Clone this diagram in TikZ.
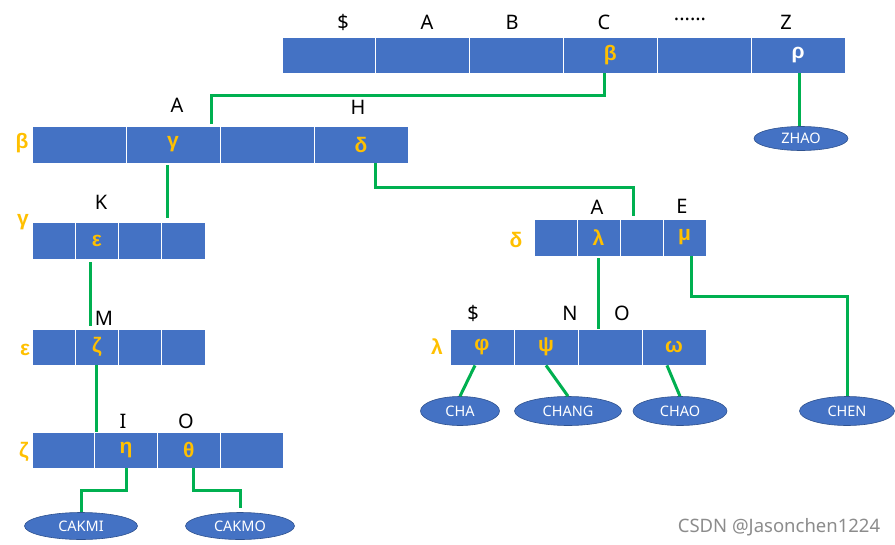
\documentclass[tikz,border=0pt]{standalone}
\usepackage{fontspec}
\setmainfont{Noto Sans}
\newfontfamily\grkfont{Liberation Sans}
\usetikzlibrary{shapes.geometric}
\definecolor{cblue}{HTML}{4472C4}
\definecolor{cyel}{HTML}{FFC000}
\definecolor{cgreen}{HTML}{00B050}
\definecolor{cedge}{HTML}{2F528F}
\begin{document}
\begin{tikzpicture}[x=1pt,y=-1pt,
  cell/.style={rectangle, fill=cblue, draw=white, line width=0.8pt, inner sep=0pt, minimum height=36pt, text=cyel, font=\grkfont\fontsize{21}{21}\selectfont\bfseries},
  lbl/.style={font=\fontsize{20}{20}\selectfont, text=black, inner sep=0pt},
  rowlbl/.style={font=\grkfont\fontsize{21}{21}\selectfont\bfseries, text=cyel, inner sep=0pt},
  leaf/.style={ellipse, fill=cblue, draw=cedge, line width=0.6pt, inner sep=0pt, text=white, font=\fontsize{14.5}{14.5}\selectfont},
  conn/.style={draw=cgreen, line width=3pt}]
\fill[white] (0,0) rectangle (895,544);
\useasboundingbox (0,0) rectangle (895,544);

% top array
\node[cell, minimum width=93.8pt] (t1) at (328.9,55) {};
\node[cell, minimum width=93.8pt] (t2) at (422.7,55) {};
\node[cell, minimum width=93.8pt] (t3) at (516.5,55) {};
\node[cell, minimum width=93.8pt] (t4) at (610.3,55) {β};
\node[cell, minimum width=93.8pt] (t5) at (704.2,55) {};
\node[cell, minimum width=93.8pt, text=white] (t6) at (798,55) {ρ};
\node[lbl] (tl1) at (343,22) {\$};
\node[lbl] (tl2) at (427,22) {A};
\node[lbl] (tl3) at (512,22) {B};
\node[lbl] (tl4) at (604,22) {C};
\node[lbl] (tl5) at (690,19) {......};
\node[lbl] (tl6) at (786,22) {Z};

% beta array
\node[cell, minimum width=94pt, minimum height=37pt] (b1) at (79,144.5) {};
\node[cell, minimum width=94pt, minimum height=37pt] (b2) at (173,144.5) {γ};
\node[cell, minimum width=94pt, minimum height=37pt] (b3) at (267,144.5) {};
\node[cell, minimum width=94pt, minimum height=37pt] (b4) at (361,144.5) {δ};
\node[rowlbl] (bl) at (22,143) {β};
\node[lbl] (bla) at (177,105) {A};
\node[lbl] (blh) at (358,107) {H};

% gamma array
\node[cell, minimum width=43.25pt, minimum height=37pt] (g1) at (53.6,240.5) {};
\node[cell, minimum width=43.25pt, minimum height=37pt] (g2) at (96.9,240.5) {ε};
\node[cell, minimum width=43.25pt, minimum height=37pt] (g3) at (140.1,240.5) {};
\node[cell, minimum width=43.25pt, minimum height=37pt] (g4) at (183.4,240.5) {};
\node[rowlbl] (gl) at (23,222) {γ};
\node[lbl] (glk) at (101,202) {K};

% epsilon array
\node[cell, minimum width=43.25pt] (e1) at (53.6,347) {};
\node[cell, minimum width=43.25pt] (e2) at (96.9,347) {ζ};
\node[cell, minimum width=43.25pt] (e3) at (140.1,347) {};
\node[cell, minimum width=43.25pt] (e4) at (183.4,347) {};
\node[rowlbl] (el) at (25,350) {ε};
\node[lbl] (elm) at (104,318) {M};

% zeta array
\node[cell, minimum width=62.75pt] (z1) at (63.4,450) {};
\node[cell, minimum width=62.75pt] (z2) at (126.1,450) {η};
\node[cell, minimum width=62.75pt] (z3) at (188.9,450) {θ};
\node[cell, minimum width=62.75pt] (z4) at (251.6,450) {};
\node[rowlbl] (zl) at (24,452) {ζ};
\node[lbl] (zli) at (123,421) {I};
\node[lbl] (zlo) at (186,421) {O};

% delta array
\node[cell, minimum width=43pt, minimum height=37pt] (d1) at (555.5,237.5) {};
\node[cell, minimum width=43pt, minimum height=37pt] (d2) at (598.5,237.5) {λ};
\node[cell, minimum width=43pt, minimum height=37pt] (d3) at (641.5,237.5) {};
\node[cell, minimum width=43pt, minimum height=37pt] (d4) at (684.5,237.5) {μ};
\node[rowlbl] (dl) at (516,240) {δ};
\node[lbl] (dla) at (597,207) {A};
\node[lbl] (dle) at (682,206) {E};

% lambda array
\node[cell, minimum width=64pt] (l1) at (482,347) {φ};
\node[cell, minimum width=64pt] (l2) at (546,347) {ψ};
\node[cell, minimum width=64pt] (l3) at (610,347) {};
\node[cell, minimum width=64pt] (l4) at (674,347) {ω};
\node[rowlbl] (ll) at (437,347) {λ};
\node[lbl] (lld) at (473,313) {\$};
\node[lbl] (lln) at (570,313) {N};
\node[lbl] (llo) at (622,313) {O};

% leaves
\node[leaf, minimum width=94pt, minimum height=24pt] (zhao) at (801,138.5) {ZHAO};
\node[leaf, minimum width=113pt, minimum height=27pt] (cakmi) at (81,526) {CAKMI};
\node[leaf, minimum width=109pt, minimum height=27pt] (cakmo) at (240,526) {CAKMO};
\node[leaf, minimum width=79pt, minimum height=29pt] (cha) at (460,411) {CHA};
\node[leaf, minimum width=107pt, minimum height=29pt] (chang) at (568,411) {CHANG};
\node[leaf, minimum width=94pt, minimum height=29pt] (chao) at (680,411) {CHAO};
\node[leaf, minimum width=95pt, minimum height=29pt] (chen) at (847,411) {CHEN};

% connectors
\draw[conn] ([xshift=-6pt]t4.south) -- ++(0,22) -| ([xshift=38pt,yshift=2pt]b2.north);
\draw[conn] ([xshift=1pt]t6.south) -- ([xshift=1pt]t6.south |- zhao.north);
\draw[conn] ([xshift=-6pt,yshift=-2pt]b2.south) -- ([xshift=-16.4pt,yshift=4pt]g4.north);
\draw[conn] ([xshift=14pt]b4.south) -- ++(0,24) -| ([xshift=-8.5pt,yshift=3pt]d3.north);
\draw[conn] ([xshift=-6pt,yshift=-3pt]g2.south) -- ([xshift=-6pt,yshift=3pt]e2.north);
\draw[conn] (e2.south) -- (e2.south |- z2.north);
\draw[conn] (z2.south) -- ++(0,22) -| (cakmi.north);
\draw[conn] ([xshift=5pt]z3.south) -- ++(0,22) -| ([yshift=4pt]cakmo.north);
\draw[conn] ([yshift=-2pt]d2.south) -- (d2.south |- l3.north);
\draw[conn] ([xshift=6.5pt]d4.south) -- ++(0,40) -| (chen.north);
\draw[conn] ([xshift=-7pt]l1.south) -- (cha.north);
\draw[conn] (l2.south) -- (chang.north);
\draw[conn] ([xshift=-7pt]l4.south) -- (chao.north);

% watermark
\node[text=black!45, font=\fontsize{18.5}{18.5}\selectfont, inner sep=0pt] (wm) at (779,527) {CSDN @Jasonchen1224};
\end{tikzpicture}
\end{document}
